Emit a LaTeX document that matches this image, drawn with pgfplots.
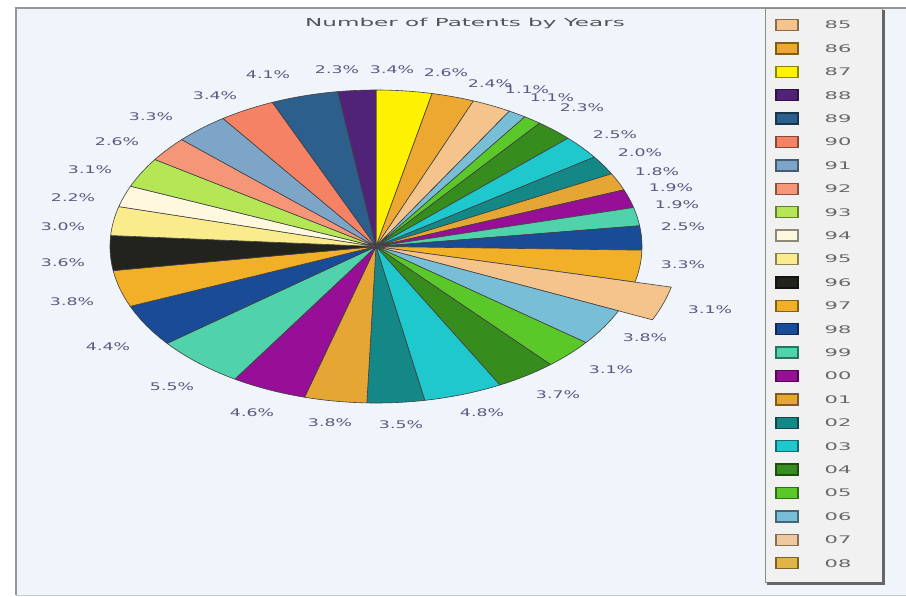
\documentclass[border=0pt]{standalone}
\usepackage{pgfplots}
\usepackage{pgfplotstable}
\pgfplotsset{compat=1.18}
\usepackage{graphicx}
\usepackage{fontspec}
\setmainfont{DejaVu Sans}

\definecolor{cPeach}{RGB}{245,196,140}
\definecolor{cPeachB}{RGB}{240,200,160}
\definecolor{cOrange}{RGB}{236,168,48}
\definecolor{cOrangeB}{RGB}{242,176,40}
\definecolor{cOrangeC}{RGB}{230,166,52}
\definecolor{cOrangeD}{RGB}{225,180,70}
\definecolor{cYellow}{RGB}{255,242,0}
\definecolor{cDkPurple}{RGB}{80,35,120}
\definecolor{cSlate}{RGB}{45,95,140}
\definecolor{cSalmonA}{RGB}{245,130,100}
\definecolor{cSteel}{RGB}{125,165,200}
\definecolor{cSalmonB}{RGB}{246,150,120}
\definecolor{cLtGreen}{RGB}{180,230,85}
\definecolor{cCream}{RGB}{255,248,222}
\definecolor{cLtYellow}{RGB}{250,236,140}
\definecolor{cBlack}{RGB}{35,35,30}
\definecolor{cDkBlue}{RGB}{25,75,150}
\definecolor{cTealGreen}{RGB}{80,210,170}
\definecolor{cPurple}{RGB}{150,15,150}
\definecolor{cTeal}{RGB}{20,135,135}
\definecolor{cCyan}{RGB}{30,200,205}
\definecolor{cDkGreen}{RGB}{55,140,30}
\definecolor{cGreen}{RGB}{90,200,40}
\definecolor{cLtBlue}{RGB}{120,190,215}
\definecolor{panel}{RGB}{240,244,251}
\definecolor{framec}{RGB}{150,150,150}
\definecolor{legbg}{RGB}{241,241,241}
\definecolor{labelc}{RGB}{90,90,128}
\definecolor{titlec}{RGB}{85,85,85}
\definecolor{legtext}{RGB}{105,105,105}

% legend colours, named by year
\colorlet{y85}{cPeach}\colorlet{y86}{cOrange}\colorlet{y87}{cYellow}
\colorlet{y88}{cDkPurple}\colorlet{y89}{cSlate}\colorlet{y90}{cSalmonA}
\colorlet{y91}{cSteel}\colorlet{y92}{cSalmonB}\colorlet{y93}{cLtGreen}
\colorlet{y94}{cCream}\colorlet{y95}{cLtYellow}\colorlet{y96}{cBlack}
\colorlet{y97}{cOrangeB}\colorlet{y98}{cDkBlue}\colorlet{y99}{cTealGreen}
\colorlet{y00}{cPurple}\colorlet{y01}{cOrangeC}\colorlet{y02}{cTeal}
\colorlet{y03}{cCyan}\colorlet{y04}{cDkGreen}\colorlet{y05}{cGreen}
\colorlet{y06}{cLtBlue}\colorlet{y07}{cPeachB}\colorlet{y08}{cOrangeD}

\pgfdeclareplotmark{empty}{}

% slices clockwise from 12 o'clock: value (%), colour, radius factor, label position (px)
\pgfplotstableread{
v    clr         r     lx    ly
3.4  cYellow     1     392   70
2.6  cOrange     1     446   73
2.4  cPeach      1     490   84
1.1  cLtBlue     1     527   90
1.1  cGreen      1     552   98
2.3  cDkGreen    1     582   108
2.5  cCyan       1     615   135
2.0  cTeal       1     640   153
1.8  cOrangeC    1     657   172
1.9  cPurple     1     671   188
1.9  cTealGreen  1     677   205
2.5  cDkBlue     1     683   227
3.3  cOrangeB    1     683   265
3.1  cPeach      1.14  710   310
3.8  cLtBlue     1     645   338
3.1  cGreen      1     611   370
3.7  cDkGreen    1     558   395
4.8  cCyan       1     482   413
3.5  cTeal       1     401   425
3.8  cOrangeC    1     330   423
4.6  cPurple     1     252   413
5.5  cTealGreen  1     172   387
4.4  cDkBlue     1     108   347
3.8  cOrangeB    1     72    302
3.6  cBlack      1     63    263
3.0  cLtYellow   1     63    227
2.2  cCream      1     73    198
3.1  cLtGreen    1     90    170
2.6  cSalmonB    1     117   142
3.3  cSteel      1     151   117
3.4  cSalmonA    1     215   96
4.1  cSlate      1     268   75
2.3  cDkPurple   1     337   70
}\pie
\pgfplotstablecreatecol[create col/expr accum={\pgfmathaccuma + \thisrow{v}}{0}]{cum}\pie

% legend entries: year, row position (px)
\pgfplotstableread{
yr  ly
85  25
86  48.4
87  71.8
88  95.2
89  118.6
90  142
91  165.4
92  188.8
93  212.2
94  235.6
95  259
96  282.4
97  305.8
98  329.2
99  352.6
00  376
01  399.4
02  422.8
03  446.2
04  469.6
05  493
06  516.4
07  539.8
08  563.2
}\legtab

\newcommand\pietotal{100.5}
\newcommand\lab[1]{\scalebox{1.65}[1]{\fontsize{10.5}{12}\selectfont #1}}

\begin{document}
\begin{tikzpicture}
\begin{axis}[
  x=1pt, y=1pt, xmin=0, xmax=906, ymin=0, ymax=597, y dir=reverse,
  hide axis, clip=false,
]
\pgfplotsextra{
  \fill[white] (axis cs:0,0) rectangle (axis cs:906,597);
  \fill[panel] (axis cs:16,8) rectangle (axis cs:906,595);
  \draw[framec, line width=1.8pt] (axis cs:16,595) -- (axis cs:16,8) -- (axis cs:906,8);
  \draw[framec!50, line width=0.8pt] (axis cs:16,595) -- (axis cs:906,595);
  \node[text=titlec, inner sep=0pt] at (axis cs:465,23)
    {\scalebox{2.1}[1]{\fontsize{11}{13}\selectfont Number of Patents by Years}};
  \fill[legbg] (axis cs:765,8) rectangle (axis cs:882,582);
  \draw[gray!90, line width=1pt] (axis cs:765,8) rectangle (axis cs:882,582);
  \draw[black!60, line width=2.5pt] (axis cs:883.5,10) -- (axis cs:883.5,583.5) -- (axis cs:767,583.5);
}
% pie slices
\addplot[scatter, only marks, mark=empty, point meta=explicit symbolic,
  visualization depends on={\thisrow{cum} \as \pcum},
  visualization depends on={\thisrow{v} \as \pval},
  visualization depends on={\thisrow{r} \as \prf},
  scatter/@pre marker code/.code={%
    \pgfmathsetmacro{\aS}{90-((\pcum-\pval)/\pietotal)*360}%
    \pgfmathsetmacro{\aE}{90-(\pcum/\pietotal)*360}%
    \pgfmathsetmacro{\rx}{\prf*266}%
    \pgfmathsetmacro{\ry}{\prf*156.5}%
    \filldraw[fill=\pgfplotspointmeta, draw=black!75, line width=0.6pt, line join=round]
      (0,0) -- (\aS:\rx pt and \ry pt)
      arc[start angle=\aS, end angle=\aE, x radius=\rx pt, y radius=\ry pt] -- cycle;
  },
  scatter/@post marker code/.code={},
] table[x expr=376, y expr=246.5, meta=clr] {\pie};
% slice labels
\addplot[scatter, only marks, mark=empty, point meta=explicit symbolic,
  scatter/@pre marker code/.code={%
    \node[text=labelc, inner sep=0pt] at (0,0) {\lab{\pgfplotspointmeta\%}};
  },
  scatter/@post marker code/.code={},
] table[x=lx, y=ly, meta=v] {\pie};
% legend
\addplot[scatter, only marks, mark=empty, point meta=explicit symbolic,
  scatter/@pre marker code/.code={%
    \filldraw[fill=y\pgfplotspointmeta, draw=y\pgfplotspointmeta!55!black, line width=1.3pt] (-11pt,-5.5pt) rectangle (11pt,5.5pt);
    \node[text=legtext, inner sep=0pt] at (51pt,0) {\scalebox{2}[1]{\fontsize{10.5}{12}\selectfont\pgfplotspointmeta}};
  },
  scatter/@post marker code/.code={},
] table[x expr=787, y=ly, meta=yr] {\legtab};
\end{axis}
\pgfresetboundingbox
\useasboundingbox (current axis.south west) rectangle (current axis.north east);
\end{tikzpicture}
\end{document}
